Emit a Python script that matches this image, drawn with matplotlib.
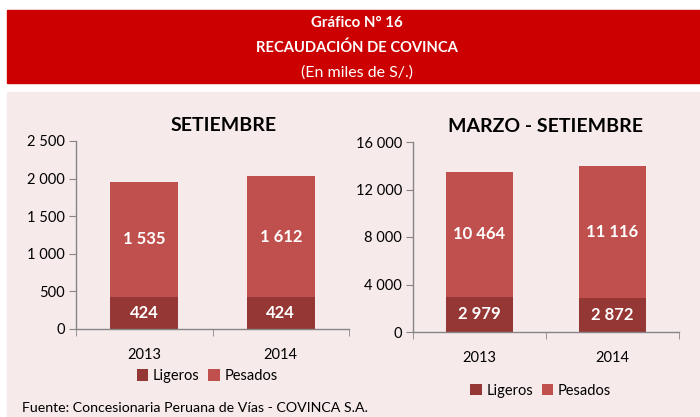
import matplotlib.pyplot as plt
from matplotlib.patches import Rectangle

plt.rcParams["font.family"] = ["Lato", "DejaVu Sans"]

years = ["2013", "2014"]
sep_ligeros = [424, 424]
sep_pesados = [1535, 1612]
mar_sep_ligeros = [2979, 2872]
mar_sep_pesados = [10464, 11116]

sep_yticks = [0, 500, 1000, 1500, 2000, 2500]
mar_sep_yticks = [0, 4000, 8000, 12000, 16000]

COLOR_LIGEROS = "#953735"
COLOR_PESADOS = "#C0504D"
HEADER_RED = "#CC0000"
PANEL_PINK = "#F7EAEB"
AXIS_GREY = "#868686"


def fmt_num(v):
    return f"{int(v):,}".replace(",", " ")


def draw_panel(ax, title, ligeros, pesados, yticks, legend_y, title_x=0.5):
    x = range(len(years))
    ax.set_facecolor("none")
    b1 = ax.bar(x, ligeros, width=0.5, color=COLOR_LIGEROS, label="Ligeros", zorder=2)
    b2 = ax.bar(x, pesados, width=0.5, bottom=ligeros, color=COLOR_PESADOS,
                label="Pesados", zorder=2)
    for i in x:
        ax.text(i, ligeros[i] / 2, fmt_num(ligeros[i]), ha="center", va="center",
                color="white", fontsize=12, fontweight="bold", zorder=3)
        ax.text(i, ligeros[i] + pesados[i] / 2, fmt_num(pesados[i]), ha="center",
                va="center", color="white", fontsize=12, fontweight="bold", zorder=3)

    ax.set_xlim(-0.5, len(years) - 0.5)
    ax.set_ylim(yticks[0], yticks[-1])
    ax.set_yticks(yticks)
    ax.set_yticklabels([fmt_num(t) for t in yticks], fontsize=10.5)
    ax.set_xticks(list(x))
    ax.set_xticklabels(years, fontsize=10.5)
    ax.set_xticks([i - 0.5 for i in range(len(years) + 1)], minor=True)
    ax.tick_params(axis="x", which="major", length=0, pad=14)
    ax.tick_params(axis="x", which="minor", length=5, color=AXIS_GREY, direction="out")
    ax.tick_params(axis="y", length=5, color=AXIS_GREY, direction="out", pad=3)

    for side in ("top", "right"):
        ax.spines[side].set_visible(False)
    for side in ("left", "bottom"):
        ax.spines[side].set_color(AXIS_GREY)
        ax.spines[side].set_linewidth(1.0)

    ax.set_title(title, fontsize=14, fontweight="bold", pad=7, x=title_x)
    ax.legend(handles=[b1, b2], loc="center", bbox_to_anchor=(0.48, legend_y),
              ncol=2, frameon=False, fontsize=10.5, handlelength=0.8,
              handleheight=0.8, handletextpad=0.3, columnspacing=0.6)


fig = plt.figure(figsize=(7.0, 4.17), dpi=100)
fig.patch.set_facecolor("white")

# header band and pink panel
fig.add_artist(Rectangle((7 / 700, 1 - 83 / 417), 1 - 7 / 700, 73 / 417,
                         transform=fig.transFigure, color=HEADER_RED, zorder=0))
fig.add_artist(Rectangle((7 / 700, 0), 1 - 7 / 700, 1 - 92 / 417,
                         transform=fig.transFigure, color=PANEL_PINK, zorder=0))

fig.text(0.51, 1 - 23 / 417, "Gráfico N° 16", ha="center", va="center",
         color="white", fontsize=10.8, fontweight="bold")
fig.text(0.51, 1 - 48 / 417, "RECAUDACIÓN DE COVINCA", ha="center", va="center",
         color="white", fontsize=10.6, fontweight="bold")
fig.text(0.51, 1 - 73 / 417, "(En miles de S/.)", ha="center", va="center",
         color="white", fontsize=11.5)

ax1 = fig.add_axes([76 / 700, 88 / 417, 273 / 700, 188 / 417])
draw_panel(ax1, "SETIEMBRE", sep_ligeros, sep_pesados, sep_yticks, -0.25,
           title_x=0.54)

ax2 = fig.add_axes([413 / 700, 85 / 417, 266 / 700, 190 / 417])
draw_panel(ax2, "MARZO - SETIEMBRE", mar_sep_ligeros, mar_sep_pesados,
           mar_sep_yticks, -0.31)

fig.text(22 / 700, 1 - 408 / 417, "Fuente: Concesionaria Peruana de Vías - COVINCA S.A.",
         ha="left", va="center", fontsize=10.2)

fig.savefig("out.png", dpi=100)
